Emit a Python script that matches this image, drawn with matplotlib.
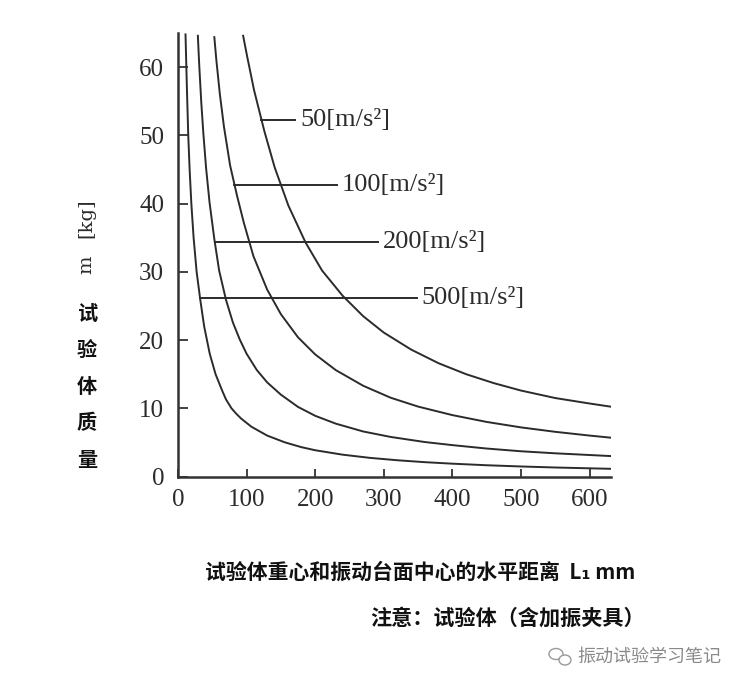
import numpy as np
import matplotlib
matplotlib.use("Agg")
import matplotlib.pyplot as plt
from matplotlib.patches import Ellipse

# L = distance [mm], m = mass [kg]
L50 = [95, 101, 111, 126, 141, 161, 186, 210, 240, 270, 300, 340, 380, 420, 460, 500, 550, 600, 630]
m50 = [64.6, 61.5, 56.6, 50.6, 45.3, 39.7, 34.3, 30.2, 26.5, 23.5, 21.1, 18.6, 16.6, 15.0, 13.7, 12.6, 11.5, 10.7, 10.25]

L100 = [53, 56, 61, 67, 76, 86, 96, 110, 130, 150, 175, 200, 230, 270, 310, 350, 400, 450, 500, 550, 600, 630]
m100 = [64.4, 61.0, 56.1, 51.3, 45.6, 41.2, 37.2, 32.3, 27.4, 23.8, 20.4, 17.9, 15.6, 13.3, 11.55, 10.25, 9.0, 8.0, 7.2, 6.55, 6.0, 5.7]

L200 = [29, 31, 34, 37, 41, 46, 53, 60, 70, 80, 90, 100, 115, 130, 150, 175, 200, 230, 270, 310, 360, 400, 450, 500, 550, 600, 630]
m200 = [64.6, 60.3, 54.8, 50.3, 45.2, 40.2, 34.8, 30.2, 25.9, 22.6, 20.1, 18.0, 15.6, 13.8, 12.0, 10.2, 8.9, 7.75, 6.6, 5.8, 5.05, 4.6, 4.1, 3.7, 3.4, 3.15, 3.0]

L500 = [11.0, 13.0, 15.0, 17.0, 19.5, 22.8, 27.2, 32.4, 38.2, 46.3, 54.8, 64.8, 70, 78, 85, 92, 107, 130, 156, 180, 200, 240,
        280, 320, 360, 400, 450, 500, 550, 600, 630]
m500 = [64.8, 57.0, 50.0, 45.0, 40.0, 35.0, 30.0, 26.0, 22.0, 18.0, 15.0, 12.5, 11.3, 10.0, 9.2, 8.5, 7.3, 6.0, 5.0, 4.3, 3.85, 3.2,
        2.73, 2.38, 2.1, 1.88, 1.65, 1.47, 1.32, 1.2, 1.13]

curves = [(L50, m50), (L100, m100), (L200, m200), (L500, m500)]
labels = ["50[m/s²]", "100[m/s²]", "200[m/s²]", "500[m/s²]"]
label_m = [52.3, 42.8, 34.3, 26.1]
label_end = [171, 232, 291, 348]

xticks = [0, 100, 200, 300, 400, 500, 600]
yticks = [0, 10, 20, 30, 40, 50, 60]

num_font = "Liberation Serif"
cjk_font = ["Noto Sans CJK SC", "DejaVu Sans"]
ink = "#2b2b2b"

fig = plt.figure(figsize=(7.44, 6.87), dpi=100)
ax = fig.add_axes([0.2392, 0.3064, 0.5827, 0.6455])

for L, m in curves:
    ax.plot(L, m, color=ink, lw=1.4, solid_joinstyle="round")

for (L, m), lab, y, xe in zip(curves, labels, label_m, label_end):
    x0 = np.interp(y, m[::-1], L[::-1])
    ax.plot([x0, xe], [y, y], color=ink, lw=1.4)
    ax.text(xe + 7, y, lab, ha="left", va="center", fontsize=19, family=num_font, color=ink)

ax.set_xlim(0, 632)
ax.set_ylim(0, 65)
ax.spines[["top", "right"]].set_visible(False)
for s in ["left", "bottom"]:
    ax.spines[s].set_linewidth(1.8)
    ax.spines[s].set_color("#333333")
ax.set_xticks(xticks)
ax.set_yticks(yticks)
ax.tick_params(axis="both", direction="in", color="#333333", width=1.3,
               labelsize=18, labelfontfamily=num_font, labelcolor=ink)
ax.tick_params(axis="x", length=6, pad=9)
ax.tick_params(axis="y", length=7, pad=10)

# y axis label: "m [kg]" rotated, then the Chinese name stacked
fig.text(86 / 744, 1 - 218 / 687, "[kg]", rotation=90, ha="center", va="center",
         fontsize=14, family="DejaVu Serif", color=ink)
fig.text(86 / 744, 1 - 265 / 687, "m", rotation=90, ha="center", va="center",
         fontsize=14, family="DejaVu Serif", color=ink)
for ch, yp in zip("试验体质量", [313, 349, 386, 423, 460]):
    fig.text(87 / 744, 1 - yp / 687, ch, ha="center", va="center", fontsize=14.5,
             family=cjk_font, weight="heavy", color="#111111")

fig.text(205 / 744, 1 - 572 / 687, "试验体重心和振动台面中心的水平距离  L₁ mm", ha="left", va="center",
         fontsize=15, family=cjk_font, weight="heavy", color="#111111")
fig.text(370 / 744, 1 - 618 / 687, "注意：试验体（含加振夹具）", ha="left", va="center",
         fontsize=15.2, family=cjk_font, weight="heavy", color="#111111")

# watermark
fig.patches.append(Ellipse((556 / 744, 1 - 654 / 687), 14 / 744, 11 / 687, transform=fig.transFigure,
                           fill=False, ec="#9a9a9a", lw=1))
fig.patches.append(Ellipse((565 / 744, 1 - 660 / 687), 12 / 744, 10 / 687, transform=fig.transFigure,
                           fill=True, fc="white", ec="#9a9a9a", lw=1))
fig.text(577 / 744, 1 - 657 / 687, "振动试验学习笔记", ha="left", va="center",
         fontsize=13, family=cjk_font, color="#8a8a8a")

fig.savefig("out.png", dpi=100, facecolor="white")
